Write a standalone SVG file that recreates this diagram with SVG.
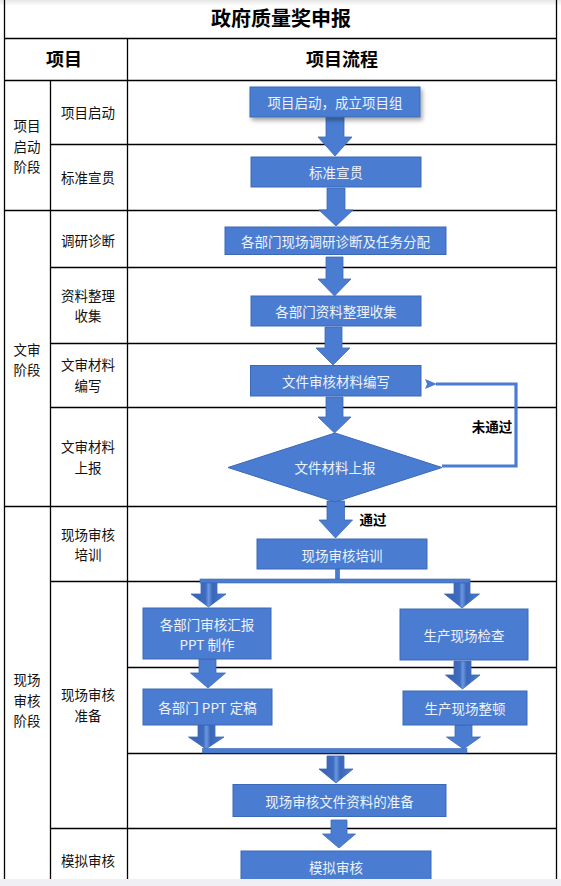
<svg xmlns="http://www.w3.org/2000/svg" width="561" height="886" viewBox="0 0 561 886">
<style>
.grid{stroke:#000;stroke-width:1.3;fill:none}
.box{fill:#4a7dd1;stroke:#3c68b6;stroke-width:1}
.arr{fill:#4a7dd1;stroke:#3c68b6;stroke-width:0.8}
.bev{fill:url(#bevel);stroke:#3c68b6;stroke-width:0.8}
.bar{fill:#4a7dd1;stroke:#3c68b6;stroke-width:0.6}
.bt{font-family:"Noto Sans CJK SC","Noto Sans",sans-serif;font-size:13.5px;fill:#eef2fa;text-anchor:middle;dominant-baseline:central}
.lt{font-family:"Noto Sans CJK SC","Noto Sans",sans-serif;font-size:13.5px;fill:#111;text-anchor:middle;dominant-baseline:central}
.hd{font-family:"Noto Sans CJK SC","Noto Sans",sans-serif;font-weight:bold;fill:#000;text-anchor:middle;dominant-baseline:central}
.fl{fill:none;stroke:#4a7dd1;stroke-width:3.2}
</style>
<defs>
<linearGradient id="bevel" x1="0" y1="0" x2="1" y2="0">
<stop offset="0" stop-color="#3561b2"/>
<stop offset="0.42" stop-color="#3f6cc0"/>
<stop offset="0.5" stop-color="#6b98e2"/>
<stop offset="0.62" stop-color="#3a66b8"/>
<stop offset="1" stop-color="#4a7dd1"/>
</linearGradient>
<linearGradient id="topsh" x1="0" y1="0" x2="0" y2="1">
<stop offset="0" stop-color="#e6e6e6"/>
<stop offset="1" stop-color="#ffffff"/>
</linearGradient>
<filter id="sh" x="-10%" y="-20%" width="125%" height="160%">
<feDropShadow dx="2" dy="3" stdDeviation="2" flood-color="#000" flood-opacity="0.35"/>
</filter>
<marker id="ah" markerWidth="12" markerHeight="10" refX="1" refY="5" orient="auto" markerUnits="userSpaceOnUse">
<path d="M0,5 L12,0 L10,5 L12,10 Z" fill="#4a7dd1"/>
</marker>
</defs>
<rect x="0" y="0" width="561" height="886" fill="#fff"/>
<rect x="0" y="0" width="561" height="6" fill="url(#topsh)"/>

<g id="table">
<path class="grid" d="M4.5,0 V879 M556.5,0 V879 M4.5,38.5 H556.5 M4.5,80.5 H556.5 M127.5,38.5 V879 M50.5,80.5 V879 M50.5,144.5 H556.5 M4.5,210.5 H556.5 M50.5,267.5 H556.5 M50.5,343.5 H556.5 M50.5,407.5 H556.5 M4.5,506.5 H556.5 M50.5,581.5 H556.5 M127.5,667.5 H556.5 M127.5,753.5 H556.5 M50.5,828.5 H556.5"/>
<text class="hd" x="281" y="17" font-size="20">政府质量奖申报</text>
<text class="hd" x="64" y="58" font-size="18">项目</text>
<text class="hd" x="342" y="58" font-size="18">项目流程</text>
</g>

<g id="labels">
<text class="lt" x="27" y="124.5">项目</text>
<text class="lt" x="27" y="145.5">启动</text>
<text class="lt" x="27" y="166">阶段</text>
<text class="lt" x="88" y="112">项目启动</text>
<text class="lt" x="88" y="177">标准宣贯</text>
<text class="lt" x="88" y="239.5">调研诊断</text>
<text class="lt" x="88" y="295">资料整理</text>
<text class="lt" x="88" y="315">收集</text>
<text class="lt" x="27" y="348.5">文审</text>
<text class="lt" x="27" y="368.5">阶段</text>
<text class="lt" x="88" y="364">文审材料</text>
<text class="lt" x="88" y="384.5">编写</text>
<text class="lt" x="88" y="446">文审材料</text>
<text class="lt" x="88" y="466.5">上报</text>
<text class="lt" x="88" y="533.5">现场审核</text>
<text class="lt" x="88" y="553.5">培训</text>
<text class="lt" x="27" y="679">现场</text>
<text class="lt" x="27" y="699.5">审核</text>
<text class="lt" x="27" y="720">阶段</text>
<text class="lt" x="88" y="694">现场审核</text>
<text class="lt" x="88" y="715">准备</text>
<text class="lt" x="88" y="860">模拟审核</text>
</g>

<g id="connectors">
<path class="arr" d="M326,117 H344 V137 H352 L335,156 L318,137 H326 Z"/>
<path class="arr" d="M327,188 H345 V210 H353 L336,226 L319,210 H327 Z"/>
<path class="arr" d="M326,257 H343 V279 H351 L334.5,296 L318,279 H326 Z"/>
<path class="arr" d="M325,327 H342 V348 H350 L333,365 L316,348 H325 Z"/>
<path class="arr" d="M326,397 H343 V417 H351 L334.5,433 L318,417 H326 Z"/>
<path class="arr" d="M327,501 H344.5 V520 H352.5 L335.5,538 L319,520 H327 Z"/>
<rect class="bar" x="335.5" y="569" width="4" height="11"/>
<rect class="bar" x="200" y="579" width="270" height="4"/>
<path class="bev" d="M201,583 H217 V594 H226 L208.5,607 L191,594 H201 Z"/>
<path class="bev" d="M454,583 H470 V594 H479.5 L462,608 L444.5,594 H454 Z"/>
<path class="arr" d="M199,659 H216 V673 H225.5 L208,688 L190.5,673 H199 Z"/>
<path class="bev" d="M454,661 H471 V675 H480 L462.5,689 L445.5,675 H454 Z"/>
<path class="bev" d="M198,725 H215 V737 H224 L206,749 L188.5,737 H198 Z"/>
<path class="arr" d="M455,725 H472 V737 H480.5 L463.5,749 L446.5,737 H455 Z"/>
<rect class="bar" x="202.5" y="748.5" width="264.5" height="4.5"/>
<path class="bev" d="M327,756 H344 V769 H353 L336,783 L319,769 H327 Z"/>
<path class="arr" d="M331,820 H347 V834 H355.5 L339,848 L322.5,834 H331 Z"/>
<path class="fl" d="M442,466 H516 V384 H436" marker-end="url(#ah)"/>
<text class="hd" x="492" y="426" font-size="13.5">未通过</text>
<text class="hd" x="373" y="518.5" font-size="13.5">通过</text>
</g>

<g id="n1"><rect class="box" x="250" y="87" width="170" height="30" filter="url(#sh)"/><text class="bt" x="335" y="102">项目启动，成立项目组</text></g>
<g id="n2"><rect class="box" x="251" y="157" width="170" height="30"/><text class="bt" x="336" y="172">标准宣贯</text></g>
<g id="n3"><rect class="box" x="225" y="227" width="221" height="27.5"/><text class="bt" x="335.5" y="241">各部门现场调研诊断及任务分配</text></g>
<g id="n4"><rect class="box" x="251" y="296" width="170" height="30"/><text class="bt" x="336" y="311">各部门资料整理收集</text></g>
<g id="n5"><rect class="box" x="250.5" y="365.5" width="170.5" height="30.5"/><text class="bt" x="336" y="381">文件审核材料编写</text></g>
<g id="n6"><path class="box" d="M335,433 L442,467.5 L335,502 L228,467.5 Z"/><text class="bt" x="335" y="467">文件材料上报</text></g>
<g id="n7"><rect class="box" x="257" y="539" width="170" height="30"/><text class="bt" x="342" y="555">现场审核培训</text></g>
<g id="n8"><rect class="box" x="143" y="608" width="128" height="51"/><text class="bt" x="207" y="623.5">各部门审核汇报</text><text class="bt" x="207" y="644">PPT 制作</text></g>
<g id="n9"><rect class="box" x="400" y="609" width="128" height="51"/><text class="bt" x="464" y="635">生产现场检查</text></g>
<g id="n10"><rect class="box" x="143" y="689" width="129" height="36"/><text class="bt" x="207.5" y="707">各部门 PPT 定稿</text></g>
<g id="n11"><rect class="box" x="403" y="691" width="124" height="34"/><text class="bt" x="465" y="708">生产现场整顿</text></g>
<g id="n12"><rect class="box" x="233" y="784.5" width="213" height="32"/><text class="bt" x="339.5" y="801">现场审核文件资料的准备</text></g>
<g id="n13"><rect class="box" x="241" y="851" width="190" height="40"/><text class="bt" x="336" y="867">模拟审核</text></g>

<rect x="0" y="879" width="561" height="7" fill="#f0f0f4"/>
</svg>
